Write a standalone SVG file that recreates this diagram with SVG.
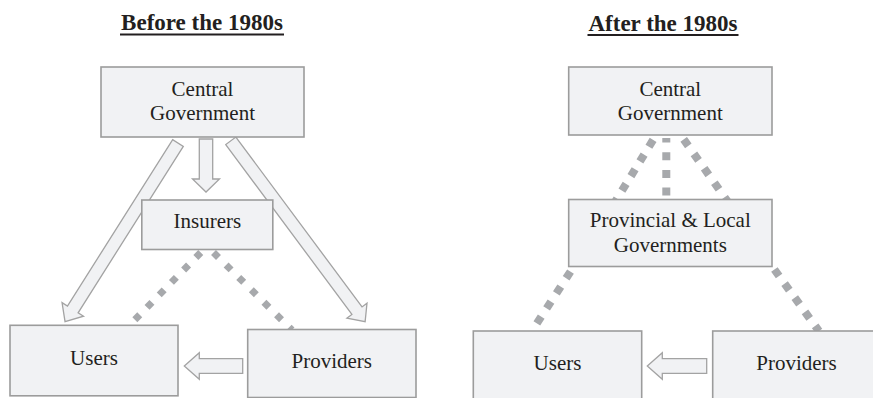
<svg xmlns="http://www.w3.org/2000/svg" width="873" height="398" viewBox="0 0 873 398">
  <style>
    .box { fill: #f1f2f4; stroke: #9c9c9c; stroke-width: 1.6; }
    .lbl { font-family: "Liberation Serif", "Times New Roman", serif; font-size: 21px; fill: #231f20; text-anchor: middle; }
    .ttl { font-family: "Liberation Serif", "Times New Roman", serif; font-size: 23px; font-weight: bold; fill: #231f20; text-anchor: middle; }
    .uline { stroke: #231f20; stroke-width: 2.2; }
    .arrow { fill: #f1f2f4; stroke: #a3a3a3; stroke-width: 1.3; stroke-linejoin: miter; }
    .dotA { stroke: #a7a9ac; stroke-width: 7; fill: none; }
    .dotB { stroke: #a7a9ac; stroke-width: 8; fill: none; }
  </style>

  <!-- titles -->
  <g id="title-before">
    <text class="ttl" x="202" y="30">Before the 1980s</text>
    <line class="uline" x1="120" y1="34.5" x2="284" y2="34.5"/>
  </g>
  <g id="title-after">
    <text class="ttl" x="663" y="31">After the 1980s</text>
    <line class="uline" x1="587.5" y1="35" x2="738.5" y2="35"/>
  </g>

  <!-- connectors -->
  <g id="connectors">
    <!-- left panel: block arrows -->
    <path class="arrow" transform="translate(206,139) rotate(90)" d="M0,-6.7 H40 V-13.5 L53,0 L40,13.5 V6.7 H0 Z"/>
    <path class="arrow" transform="translate(178,143) rotate(122.3)" d="M0,-6.3 H196.9 V-12.7 L211.4,0 L196.9,12.7 V6.3 H0 Z"/>
    <path class="arrow" transform="translate(230.8,140.8) rotate(53.4)" d="M0,-6.3 H211.6 V-12.5 L225.3,0 L211.6,12.5 V6.3 H0 Z"/>
    <path class="arrow" transform="translate(242.7,366) rotate(180)" d="M0,-7.3 H43.4 V-13.3 L58.4,0 L43.4,13.3 V7.3 H0 Z"/>
    <!-- left panel: dotted links -->
    <line class="dotA" x1="200.75" y1="252.5" x2="134.85" y2="319.8" stroke-dasharray="7 10.44"/>
    <line class="dotA" x1="213.5" y1="252.5" x2="292" y2="330" stroke-dasharray="7 10.72"/>

    <!-- right panel: block arrow -->
    <path class="arrow" transform="translate(706.7,366) rotate(180)" d="M0,-7.3 H44.4 V-13.3 L59.4,0 L44.4,13.3 V7.3 H0 Z"/>
    <!-- right panel: dotted links -->
    <line class="dotB" x1="666.3" y1="138" x2="666.3" y2="199" stroke-dasharray="8 9.7" stroke-dashoffset="3.5"/>
    <line class="dotB" x1="653.1" y1="139.9" x2="615" y2="202" stroke-dasharray="8 9.2"/>
    <line class="dotB" x1="683.7" y1="139.4" x2="728" y2="202" stroke-dasharray="8 9.7"/>
    <line class="dotB" x1="570.5" y1="271.6" x2="536.8" y2="323.4" stroke-dasharray="8 9.9"/>
    <line class="dotB" x1="774.4" y1="269.5" x2="819" y2="331.2" stroke-dasharray="8 9.4"/>
  </g>

  <!-- left panel nodes -->
  <g id="central-gov-before">
    <rect class="box" x="101" y="67" width="203" height="70"/>
    <text class="lbl" x="202.5" y="96">Central</text>
    <text class="lbl" x="202.5" y="120">Government</text>
  </g>
  <g id="insurers">
    <rect class="box" x="141.8" y="200" width="131" height="49.5"/>
    <text class="lbl" x="207.3" y="228">Insurers</text>
  </g>
  <g id="users-before">
    <rect class="box" x="10" y="325.3" width="168" height="70.5"/>
    <text class="lbl" x="94" y="365">Users</text>
  </g>
  <g id="providers-before">
    <rect class="box" x="247.7" y="329.5" width="168.3" height="68"/>
    <text class="lbl" x="331.8" y="368.3">Providers</text>
  </g>

  <!-- right panel nodes -->
  <g id="central-gov-after">
    <rect class="box" x="568.7" y="67" width="203.3" height="68"/>
    <text class="lbl" x="670.3" y="96">Central</text>
    <text class="lbl" x="670.3" y="120">Government</text>
  </g>
  <g id="provincial-local">
    <rect class="box" x="568.7" y="199.5" width="203.3" height="67"/>
    <text class="lbl" x="670.3" y="227.3">Provincial &amp; Local</text>
    <text class="lbl" x="670.3" y="252.3">Governments</text>
  </g>
  <g id="users-after">
    <rect class="box" x="473.3" y="331" width="168.4" height="68"/>
    <text class="lbl" x="557.5" y="370">Users</text>
  </g>
  <g id="providers-after">
    <rect class="box" x="712.7" y="331" width="168.4" height="68"/>
    <text class="lbl" x="796.5" y="370">Providers</text>
  </g>
</svg>
